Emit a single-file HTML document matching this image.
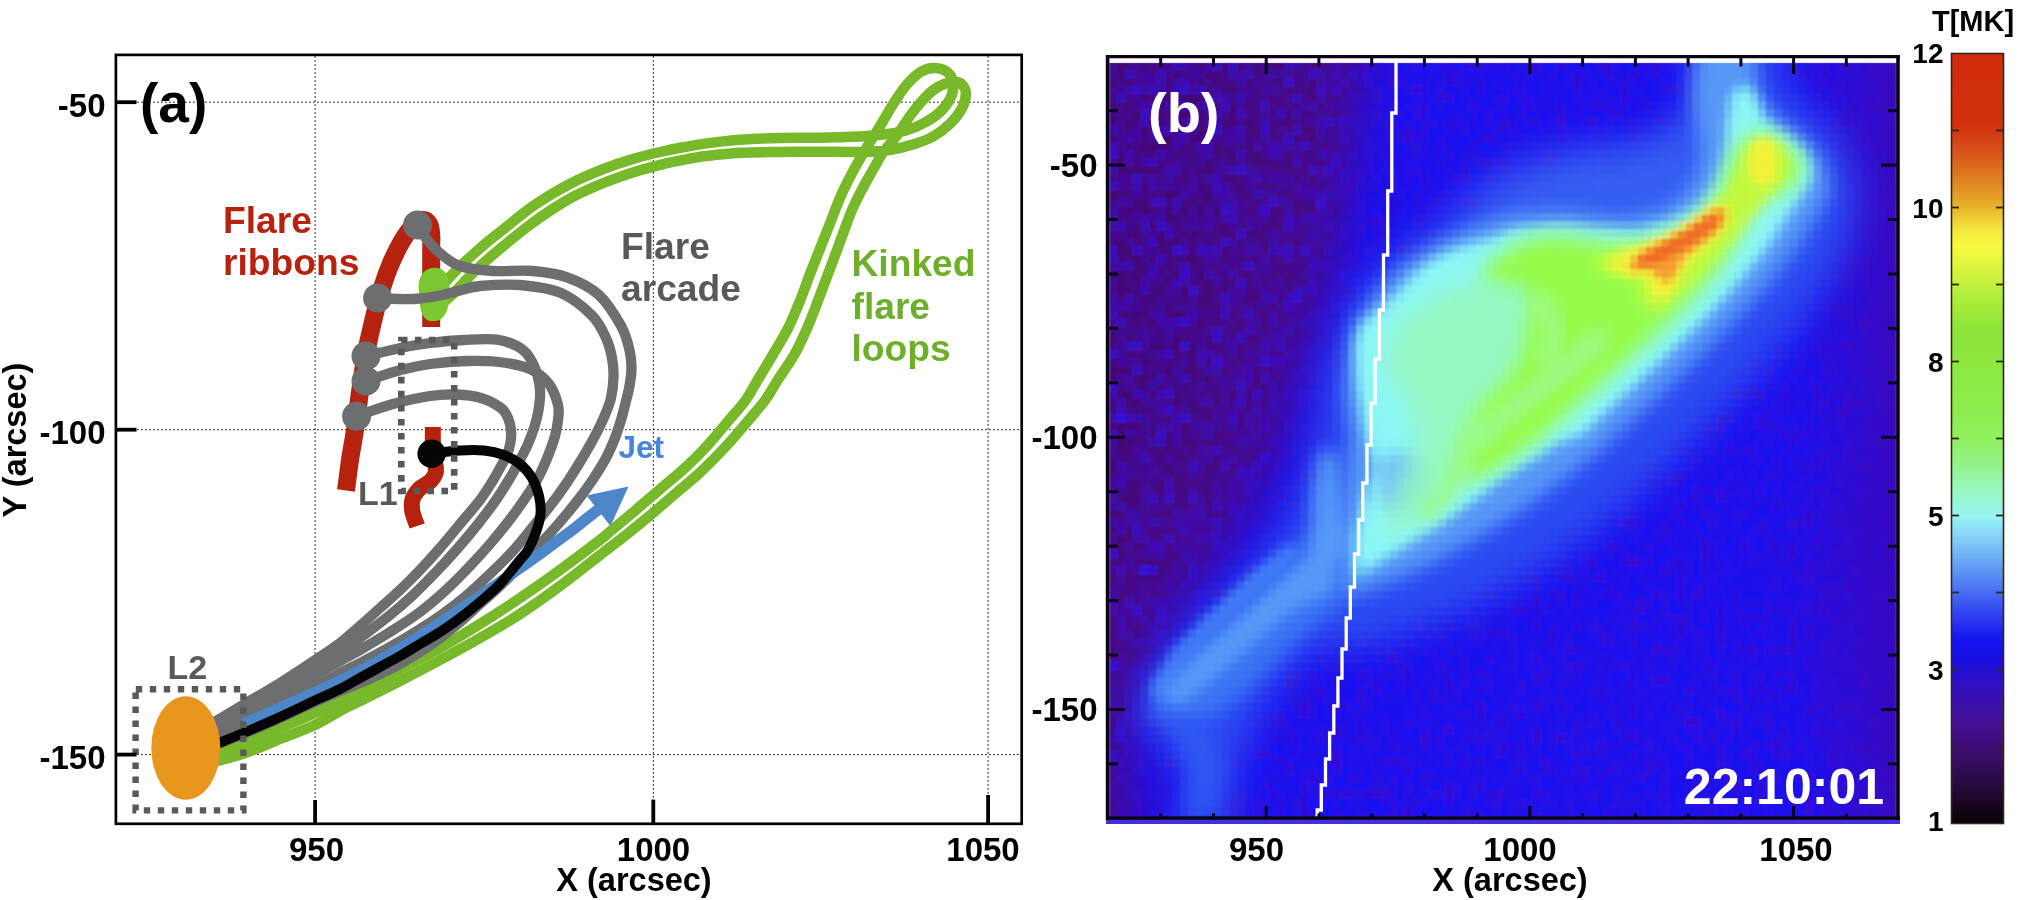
<!DOCTYPE html>
<html><head><meta charset="utf-8"><title>figure</title>
<style>
html,body{margin:0;padding:0;background:#fff;}
body{width:2025px;height:900px;overflow:hidden;}
svg{display:block;will-change:transform;}
text{font-family:"Liberation Sans",sans-serif;font-weight:bold;}
</style></head><body>
<svg width="2025" height="900" viewBox="0 0 2025 900">
<rect width="2025" height="900" fill="#ffffff"/>
<g stroke="#000" stroke-width="0.9" stroke-dasharray="1.8 2.2" fill="none">
<line x1="315.1" y1="56" x2="315.1" y2="823"/>
<line x1="653.3" y1="56" x2="653.3" y2="823"/>
<line x1="988.1" y1="56" x2="988.1" y2="823"/>
<line x1="117" y1="102.2" x2="1021" y2="102.2"/>
<line x1="117" y1="429.7" x2="1021" y2="429.7"/>
<line x1="117" y1="754.6" x2="1021" y2="754.6"/>
</g>
<g fill="none" stroke="#b5230f" stroke-linejoin="round">
<path d="M431.2,327.0 C431.2,320.8 431.2,302.8 431.2,290.0 C431.2,277.2 431.2,259.3 431.2,250.0 C431.2,240.7 431.6,238.3 431.2,234.0 C430.8,229.7 430.4,226.3 429.0,224.0 C427.6,221.7 425.5,219.8 423.0,220.0 C420.5,220.2 417.5,221.5 414.0,225.0 C410.5,228.5 406.2,233.8 402.0,241.0 C397.8,248.2 392.8,258.5 389.0,268.0 C385.2,277.5 382.0,287.7 379.0,298.0 C376.0,308.3 373.2,320.3 371.0,330.0 C368.8,339.7 367.3,345.7 365.5,356.0 C363.7,366.3 361.8,379.7 360.0,392.0 C358.2,404.3 356.7,418.7 355.0,430.0 C353.3,441.3 351.5,449.9 350.0,460.0 C348.5,470.1 346.7,485.4 346.0,490.5" stroke-width="18"/>
<path d="M432.9,427.0 C432.9,430.0 432.6,439.2 433.0,445.0 C433.4,450.8 434.5,457.4 435.0,462.0 C435.5,466.6 436.6,469.2 435.8,472.4 C435.0,475.6 432.9,478.6 430.2,481.3 C427.5,484.0 422.5,485.7 419.6,488.6 C416.7,491.6 413.8,495.2 412.6,499.0 C411.4,502.8 411.6,507.1 412.4,511.6 C413.2,516.1 416.4,523.6 417.2,526.0" stroke-width="16"/>
</g>
<g fill="none" stroke="#78b92b" stroke-width="10.5" stroke-linecap="round" stroke-linejoin="round">
<path d="M436.0,292.0 C438.0,289.8 443.6,283.6 448.0,279.0 C452.4,274.4 456.1,270.2 462.2,264.4 C468.3,258.6 477.0,250.7 484.4,244.4 C491.8,238.1 499.3,232.6 506.7,226.7 C514.1,220.8 521.5,214.3 528.9,208.9 C536.3,203.5 543.7,198.9 551.1,194.4 C558.5,189.9 565.9,185.9 573.3,182.2 C580.7,178.5 588.2,175.3 595.6,172.2 C603.0,169.1 610.4,166.3 617.8,163.8 C625.2,161.3 632.6,159.1 640.0,157.0 C647.4,154.9 654.8,153.2 662.2,151.5 C669.6,149.8 677.0,148.3 684.4,147.0 C691.8,145.7 697.4,144.6 706.7,143.4 C716.0,142.2 727.8,140.7 740.0,139.8 C752.2,138.9 766.7,138.3 780.0,138.0 C793.3,137.7 806.1,138.0 820.0,137.7 C833.9,137.4 851.8,137.0 863.3,136.3 C874.8,135.7 882.1,134.8 889.3,133.8 C896.5,132.8 900.9,132.0 906.7,130.2 C912.5,128.4 918.5,126.0 924.0,123.0 C929.5,120.0 935.6,116.1 939.9,112.1 C944.2,108.1 947.8,103.4 950.0,99.1 C952.2,94.8 953.3,90.3 953.2,86.1 C953.1,81.9 952.2,76.8 949.3,73.8 C946.4,70.8 940.3,68.4 935.6,68.1 C930.9,67.8 925.9,68.9 921.1,71.7 C916.3,74.5 911.5,79.1 906.7,84.7 C901.9,90.3 896.5,98.9 892.2,105.6 C887.9,112.3 884.9,118.2 880.7,125.1 C876.5,132.0 871.0,140.5 867.0,147.0 C863.0,153.5 860.1,158.5 857.0,164.0 C853.9,169.5 851.2,174.6 848.5,180.0 C845.8,185.4 843.6,189.5 840.5,196.7 C837.4,203.9 833.5,214.4 830.0,223.3 C826.5,232.2 823.0,241.1 819.5,250.0 C816.0,258.9 812.2,268.2 809.0,276.7 C805.8,285.1 803.4,292.3 800.0,300.7 C796.6,309.1 793.0,318.4 788.5,327.3 C784.0,336.2 778.5,345.1 773.3,354.0 C768.1,362.9 761.9,373.0 757.3,380.7 C752.7,388.4 750.7,393.2 745.8,400.0 C740.9,406.8 734.5,413.6 728.0,421.3 C721.5,429.0 713.8,438.5 706.7,446.2 C699.6,453.9 693.0,460.5 685.3,467.6 C677.6,474.7 668.7,481.8 660.4,488.9 C652.1,496.0 643.9,503.2 635.6,510.2 C627.3,517.2 616.6,526.0 610.7,531.0 C604.8,536.0 608.5,533.5 600.0,540.0 C591.5,546.5 573.3,560.3 560.0,570.0 C546.7,579.7 533.3,589.0 520.0,598.0 C506.7,607.0 493.3,615.7 480.0,624.0 C466.7,632.3 453.3,640.4 440.0,648.0 C426.7,655.6 413.3,662.5 400.0,669.5 C386.7,676.5 370.0,684.9 360.0,690.0 C350.0,695.1 347.3,696.2 340.0,700.0 C332.7,703.8 326.0,707.8 316.0,712.5 C306.0,717.2 291.3,723.1 280.0,728.0 C268.7,732.9 258.3,737.7 248.0,742.0 C237.7,746.3 226.0,751.0 218.0,754.0 C210.0,757.0 203.0,759.0 200.0,760.0"/>
<path d="M440.0,305.0 C442.2,303.2 448.3,298.5 453.0,294.0 C457.7,289.5 462.8,283.3 468.0,278.0 C473.2,272.7 477.9,268.0 484.4,262.2 C490.8,256.4 499.3,249.4 506.7,243.3 C514.1,237.2 521.5,231.2 528.9,225.6 C536.3,220.0 543.7,214.8 551.1,210.0 C558.5,205.2 565.9,200.7 573.3,196.7 C580.7,192.7 588.2,189.4 595.6,186.2 C603.0,183.0 610.4,180.2 617.8,177.6 C625.2,174.9 632.6,172.5 640.0,170.3 C647.4,168.1 654.8,166.1 662.2,164.3 C669.6,162.5 677.0,161.0 684.4,159.6 C691.8,158.2 697.4,157.1 706.7,156.0 C716.0,154.9 727.8,153.5 740.0,152.8 C752.2,152.1 766.7,152.2 780.0,152.0 C793.3,151.8 808.5,151.7 820.0,151.7 C831.5,151.7 840.5,152.0 848.9,152.0 C857.3,152.0 863.4,152.2 870.6,151.8 C877.8,151.4 885.2,150.9 892.2,149.7 C899.2,148.5 905.8,146.8 912.5,144.6 C919.2,142.4 926.5,140.2 932.7,136.7 C939.0,133.2 945.1,128.5 950.0,123.7 C954.9,118.9 959.6,112.9 962.3,107.8 C964.9,102.7 965.9,97.1 965.9,93.3 C965.9,89.5 964.0,86.6 962.3,84.7 C960.6,82.8 958.8,82.2 955.8,82.1 C952.8,82.0 948.1,82.6 944.2,84.0 C940.4,85.4 936.6,87.5 932.7,90.5 C928.9,93.5 925.0,97.7 921.1,102.0 C917.2,106.3 913.5,111.2 909.6,116.5 C905.8,121.8 902.4,127.8 898.0,133.8 C893.6,139.8 887.0,146.9 883.0,152.6 C879.0,158.3 876.8,163.1 874.0,168.0 C871.2,172.9 868.6,177.2 866.0,182.0 C863.4,186.8 860.6,192.0 858.3,196.7 C856.0,201.4 853.9,205.6 852.0,210.0 C850.1,214.4 849.3,216.6 846.8,223.3 C844.3,230.0 840.3,241.1 837.0,250.0 C833.7,258.9 830.2,268.2 827.0,276.7 C823.8,285.1 821.2,292.3 818.0,300.7 C814.8,309.1 811.4,318.4 807.5,327.3 C803.6,336.2 799.7,345.1 794.7,354.0 C789.7,362.9 782.2,373.0 777.3,380.7 C772.4,388.4 770.2,393.2 765.3,400.0 C760.3,406.8 754.4,413.3 747.6,421.3 C740.8,429.3 732.4,439.4 724.4,448.0 C716.4,456.6 707.9,465.2 699.6,472.9 C691.3,480.6 683.0,487.1 674.7,494.2 C666.4,501.3 658.1,508.7 649.8,515.6 C641.5,522.5 633.2,529.2 624.9,535.8 C616.6,542.4 610.8,546.6 600.0,555.0 C589.2,563.4 573.3,576.2 560.0,586.0 C546.7,595.8 533.3,605.3 520.0,614.0 C506.7,622.7 493.3,630.3 480.0,638.0 C466.7,645.7 453.3,652.8 440.0,660.0 C426.7,667.2 413.3,674.2 400.0,681.0 C386.7,687.8 370.0,696.0 360.0,701.0 C350.0,706.0 347.3,707.1 340.0,711.0 C332.7,714.9 326.0,719.8 316.0,724.5 C306.0,729.2 291.3,734.4 280.0,739.0 C268.7,743.6 258.3,748.3 248.0,752.0 C237.7,755.7 226.0,758.7 218.0,761.0 C210.0,763.3 203.0,765.2 200.0,766.0"/>
</g>
<path d="M433,268 C446,266 452,280 449,294 C450,310 444,322 433,321 C423,322 419,310 420,297 C416,282 421,269 433,268Z" fill="#7cc832"/>
<g fill="none" stroke="#6d6e70" stroke-width="10.3" stroke-linecap="round" stroke-linejoin="round">
<path d="M417.0,225.0 C418.7,227.4 423.0,234.7 427.0,239.5 C431.0,244.3 435.5,249.6 441.0,254.0 C446.5,258.4 451.3,263.2 460.0,266.0 C468.7,268.8 480.8,270.2 493.0,271.0 C505.2,271.8 520.5,269.9 533.0,271.0 C545.5,272.1 556.8,273.6 567.8,277.6 C578.8,281.6 589.9,286.8 598.8,294.8 C607.7,302.8 615.9,316.6 621.0,325.8 C626.1,335.0 627.8,343.0 629.5,350.0 C631.2,357.0 631.5,362.0 631.5,368.0 C631.5,374.0 630.5,380.2 629.5,386.0 C628.5,391.8 626.9,397.3 625.5,403.0 C624.1,408.7 622.8,414.2 621.0,420.0 C619.2,425.8 617.5,431.7 615.0,438.0 C612.5,444.3 609.8,451.0 606.0,458.0 C602.2,465.0 597.2,473.0 592.5,480.0 C587.8,487.0 583.4,493.0 578.0,500.0 C572.6,507.0 565.7,515.3 560.0,522.0 C554.3,528.7 550.0,533.3 544.0,540.0 C538.0,546.7 531.3,554.3 524.0,562.0 C516.7,569.7 507.3,579.0 500.0,586.0 C492.7,593.0 486.7,598.0 480.0,604.0 C473.3,610.0 466.7,616.3 460.0,622.0 C453.3,627.7 446.7,633.0 440.0,638.0 C433.3,643.0 426.7,647.7 420.0,652.0 C413.3,656.3 406.7,660.3 400.0,664.0 C393.3,667.7 386.7,670.8 380.0,674.0 C373.3,677.2 366.7,680.2 360.0,683.0 C353.3,685.8 347.3,687.9 340.0,691.0 C332.7,694.1 326.0,697.0 316.0,701.5 C306.0,706.0 291.3,712.9 280.0,718.0 C268.7,723.1 258.3,727.7 248.0,732.0 C237.7,736.3 226.0,740.8 218.0,744.0 C210.0,747.2 203.0,749.8 200.0,751.0"/>
<path d="M377.6,298.0 C381.3,298.2 392.9,298.9 400.0,299.0 C407.1,299.1 413.3,299.1 420.0,298.5 C426.7,297.9 433.3,296.8 440.0,295.5 C446.7,294.2 453.3,292.1 460.0,290.5 C466.7,288.9 470.0,286.9 480.0,286.0 C490.0,285.1 506.5,283.8 520.0,285.0 C533.5,286.2 549.0,287.9 561.0,293.0 C573.0,298.1 584.5,308.0 592.0,315.5 C599.5,323.0 602.7,330.9 606.0,338.0 C609.3,345.1 610.8,351.5 612.0,358.0 C613.2,364.5 613.7,370.3 613.5,377.0 C613.3,383.7 612.4,391.7 611.0,398.0 C609.6,404.3 607.2,409.7 605.0,415.0 C602.8,420.3 600.5,425.0 598.0,430.0 C595.5,435.0 593.0,439.7 590.0,445.0 C587.0,450.3 584.0,455.5 580.0,462.0 C576.0,468.5 571.0,476.7 566.0,484.0 C561.0,491.3 555.7,498.7 550.0,506.0 C544.3,513.3 538.3,520.3 532.0,528.0 C525.7,535.7 519.0,544.3 512.0,552.0 C505.0,559.7 497.7,566.7 490.0,574.0 C482.3,581.3 474.3,589.0 466.0,596.0 C457.7,603.0 447.7,610.5 440.0,616.0 C432.3,621.5 428.3,623.8 420.0,629.0 C411.7,634.2 400.0,641.3 390.0,647.0 C380.0,652.7 368.3,658.7 360.0,663.0 C351.7,667.3 347.3,669.2 340.0,673.0 C332.7,676.8 326.0,680.5 316.0,686.0 C306.0,691.5 291.3,700.0 280.0,706.0 C268.7,712.0 258.3,717.0 248.0,722.0 C237.7,727.0 226.0,732.3 218.0,736.0 C210.0,739.7 203.0,742.7 200.0,744.0"/>
<path d="M366.0,356.0 C371.8,354.7 389.9,350.2 400.6,348.0 C411.3,345.8 419.4,344.3 430.0,343.0 C440.6,341.7 452.5,340.5 464.0,340.0 C475.5,339.5 489.2,338.3 499.0,340.0 C508.8,341.7 517.0,345.3 523.0,350.0 C529.0,354.7 532.2,361.3 535.0,368.0 C537.8,374.7 539.4,383.0 540.0,390.0 C540.6,397.0 539.5,403.7 538.5,410.0 C537.5,416.3 535.8,422.3 534.0,428.0 C532.2,433.7 530.3,438.7 528.0,444.0 C525.7,449.3 523.0,454.3 520.0,460.0 C517.0,465.7 514.0,471.3 510.0,478.0 C506.0,484.7 501.3,492.3 496.0,500.0 C490.7,507.7 484.3,516.0 478.0,524.0 C471.7,532.0 465.0,540.0 458.0,548.0 C451.0,556.0 443.7,564.0 436.0,572.0 C428.3,580.0 419.7,588.8 412.0,596.0 C404.3,603.2 398.7,608.0 390.0,615.0 C381.3,622.0 368.3,631.8 360.0,638.0 C351.7,644.2 347.3,647.2 340.0,652.0 C332.7,656.8 326.0,660.8 316.0,667.0 C306.0,673.2 291.3,682.2 280.0,689.0 C268.7,695.8 258.3,702.0 248.0,708.0 C237.7,714.0 226.0,720.5 218.0,725.0 C210.0,729.5 203.0,733.3 200.0,735.0"/>
<path d="M366.0,381.0 C371.8,379.2 389.9,372.8 400.6,370.0 C411.3,367.2 419.0,365.5 430.0,364.0 C441.0,362.5 455.1,361.3 466.6,361.0 C478.1,360.7 488.4,360.7 499.0,362.0 C509.6,363.3 521.7,365.3 530.0,369.0 C538.3,372.7 544.3,378.0 549.0,384.0 C553.7,390.0 556.5,399.0 558.0,405.0 C559.5,411.0 558.5,414.8 558.0,420.0 C557.5,425.2 556.7,430.0 555.0,436.0 C553.3,442.0 550.8,449.0 548.0,456.0 C545.2,463.0 542.0,470.7 538.0,478.0 C534.0,485.3 529.0,492.7 524.0,500.0 C519.0,507.3 513.7,514.7 508.0,522.0 C502.3,529.3 496.3,536.7 490.0,544.0 C483.7,551.3 477.3,558.3 470.0,566.0 C462.7,573.7 454.3,582.3 446.0,590.0 C437.7,597.7 429.3,605.0 420.0,612.0 C410.7,619.0 400.0,625.7 390.0,632.0 C380.0,638.3 368.3,645.2 360.0,650.0 C351.7,654.8 347.3,656.8 340.0,661.0 C332.7,665.2 326.0,669.3 316.0,675.0 C306.0,680.7 291.3,688.8 280.0,695.0 C268.7,701.2 258.3,706.5 248.0,712.0 C237.7,717.5 226.0,723.8 218.0,728.0 C210.0,732.2 203.0,735.5 200.0,737.0"/>
<path d="M357.0,416.0 C363.0,414.0 380.8,407.3 393.0,404.0 C405.2,400.7 419.3,397.6 430.0,396.0 C440.7,394.4 448.5,394.2 457.0,394.5 C465.5,394.8 473.7,395.8 481.0,398.0 C488.3,400.2 496.5,404.7 501.0,408.0 C505.5,411.3 506.3,414.3 508.0,418.0 C509.7,421.7 510.6,426.0 511.0,430.0 C511.4,434.0 511.2,437.8 510.5,442.0 C509.8,446.2 508.8,450.7 507.0,455.0 C505.2,459.3 502.5,463.5 500.0,468.0 C497.5,472.5 495.3,476.7 492.0,482.0 C488.7,487.3 485.3,493.0 480.0,500.0 C474.7,507.0 466.7,516.0 460.0,524.0 C453.3,532.0 446.7,540.3 440.0,548.0 C433.3,555.7 426.7,563.0 420.0,570.0 C413.3,577.0 406.7,583.7 400.0,590.0 C393.3,596.3 386.7,602.0 380.0,608.0 C373.3,614.0 366.7,620.2 360.0,626.0 C353.3,631.8 347.3,637.4 340.0,643.0 C332.7,648.6 326.0,652.8 316.0,659.5 C306.0,666.2 291.3,675.9 280.0,683.0 C268.7,690.1 258.3,695.8 248.0,702.0 C237.7,708.2 226.0,715.3 218.0,720.0 C210.0,724.7 203.0,728.3 200.0,730.0"/>
</g>
<g fill="#6d6e70">
<circle cx="417.5" cy="225" r="14.5"/>
<circle cx="377.6" cy="298" r="14.5"/>
<circle cx="366" cy="356" r="14.5"/>
<circle cx="366" cy="381" r="14.5"/>
<circle cx="356.6" cy="416.2" r="14.5"/>
</g>
<path d="M244.0,724.0 C250.0,721.3 268.0,713.3 280.0,708.0 C292.0,702.7 306.0,696.5 316.0,692.0 C326.0,687.5 332.7,684.5 340.0,681.0 C347.3,677.5 353.3,674.5 360.0,671.0 C366.7,667.5 373.3,663.8 380.0,660.0 C386.7,656.2 393.3,652.5 400.0,648.5 C406.7,644.5 413.3,640.2 420.0,636.0 C426.7,631.8 433.3,627.4 440.0,623.0 C446.7,618.6 453.3,614.0 460.0,609.5 C466.7,605.0 473.3,600.6 480.0,596.0 C486.7,591.4 493.3,586.7 500.0,582.0 C506.7,577.3 513.3,572.7 520.0,568.0 C526.7,563.3 534.0,558.3 540.0,554.0 C546.0,549.7 550.2,546.3 556.0,542.0 C561.8,537.7 569.3,532.3 575.0,528.0 C580.7,523.7 585.3,519.7 590.0,516.0 C594.7,512.3 600.8,507.7 603.0,506.0" fill="none" stroke="#4d87c9" stroke-width="11.2"/>
<polygon points="628.5,486.5 586.5,495.5 610.5,526" fill="#4d87c9"/>
<path d="M431.0,453.5 C435.8,453.0 451.2,451.0 460.0,450.5 C468.8,450.0 476.7,449.8 484.0,450.5 C491.3,451.2 498.0,452.8 504.0,455.0 C510.0,457.2 515.3,460.2 520.0,464.0 C524.7,467.8 528.8,472.7 532.0,478.0 C535.2,483.3 537.6,490.0 539.0,496.0 C540.4,502.0 541.0,508.0 540.5,514.0 C540.0,520.0 538.1,526.0 536.0,532.0 C533.9,538.0 530.7,545.3 528.0,550.0 C525.3,554.7 524.7,554.3 520.0,560.0 C515.3,565.7 506.7,577.0 500.0,584.0 C493.3,591.0 486.7,596.3 480.0,602.0 C473.3,607.7 466.7,613.0 460.0,618.0 C453.3,623.0 446.7,627.7 440.0,632.0 C433.3,636.3 426.7,640.0 420.0,644.0 C413.3,648.0 406.7,652.2 400.0,656.0 C393.3,659.8 386.7,663.3 380.0,667.0 C373.3,670.7 366.7,674.3 360.0,678.0 C353.3,681.7 347.3,685.3 340.0,689.0 C332.7,692.7 326.0,695.3 316.0,700.0 C306.0,704.7 291.3,711.8 280.0,717.0 C268.7,722.2 258.3,726.6 248.0,731.0 C237.7,735.4 226.0,740.2 218.0,743.5 C210.0,746.8 203.0,749.8 200.0,751.0" fill="none" stroke="#050505" stroke-width="10" stroke-linecap="round"/>
<circle cx="431.6" cy="453.8" r="14.2" fill="#050505"/>
<ellipse cx="185.8" cy="748" rx="34.5" ry="51.7" fill="#e9961f"/>
<g fill="#58595b">
<rect x="401.3" y="340" width="52.9" height="151" fill="none" stroke="#58595b" stroke-width="6.6" stroke-dasharray="6.6 7.43" stroke-dashoffset="0.4"/>
<rect x="135.6" y="689.2" width="107.8" height="121.2" fill="none" stroke="#58595b" stroke-width="6.4" stroke-dasharray="6.4 7.6" stroke-dashoffset="-0.2"/>
</g>
<text x="223" y="232.5" font-size="37.2" fill="#b5230f" text-anchor="start" >Flare</text>
<text x="223" y="274.5" font-size="37.2" fill="#b5230f" text-anchor="start" >ribbons</text>
<text x="621" y="259" font-size="37.2" fill="#58595b" text-anchor="start" >Flare</text>
<text x="621" y="301" font-size="37.2" fill="#58595b" text-anchor="start" >arcade</text>
<text x="851.5" y="276" font-size="37.2" fill="#6fae2b" text-anchor="start" >Kinked</text>
<text x="851.5" y="319" font-size="37.2" fill="#6fae2b" text-anchor="start" >flare</text>
<text x="851.5" y="361.2" font-size="37.2" fill="#6fae2b" text-anchor="start" >loops</text>
<text x="618.5" y="457.7" font-size="31.5" fill="#4a84d6" text-anchor="start" >Jet</text>
<text x="358" y="504.5" font-size="34" fill="#58595b" text-anchor="start" >L1</text>
<text x="167.5" y="679" font-size="34" fill="#58595b" text-anchor="start" >L2</text>
<text x="140" y="122" font-size="55" fill="#000" text-anchor="start" >(a)</text>
<rect x="115.9" y="54.9" width="905.8" height="768.9" fill="none" stroke="#000" stroke-width="2.7"/>
<g stroke="#000" stroke-width="3.8">
<line x1="116" y1="102.2" x2="136.5" y2="102.2"/>
<line x1="116" y1="429.7" x2="136.5" y2="429.7"/>
<line x1="116" y1="754.6" x2="136.5" y2="754.6"/>
<line x1="315.1" y1="800" x2="315.1" y2="824"/>
<line x1="653.3" y1="799.6" x2="653.3" y2="824"/>
<line x1="988.1" y1="795" x2="988.1" y2="824"/>
</g>
<text x="105.5" y="116.8" font-size="33" fill="#000" text-anchor="end" >-50</text>
<text x="105.5" y="444.3" font-size="33" fill="#000" text-anchor="end" >-100</text>
<text x="105.5" y="769.2" font-size="33" fill="#000" text-anchor="end" >-150</text>
<text x="316.5" y="860.7" font-size="33" fill="#000" text-anchor="middle" >950</text>
<text x="653.5" y="860.7" font-size="33" fill="#000" text-anchor="middle" >1000</text>
<text x="983" y="860.7" font-size="33" fill="#000" text-anchor="middle" >1050</text>
<text x="634" y="891" font-size="32.5" fill="#000" text-anchor="middle" >X (arcsec)</text>
<text transform="translate(26.3,440) rotate(-90)" font-size="32.5" text-anchor="middle" fill="#000">Y (arcsec)</text><defs>
<clipPath id="hclip"><rect x="1109" y="62" width="788" height="756"/></clipPath>
<filter id="b3" x="-60%" y="-60%" width="220%" height="220%" color-interpolation-filters="sRGB"><feGaussianBlur stdDeviation="3"/></filter>
<filter id="b5" x="-60%" y="-60%" width="220%" height="220%" color-interpolation-filters="sRGB"><feGaussianBlur stdDeviation="5"/></filter>
<filter id="b6" x="-60%" y="-60%" width="220%" height="220%" color-interpolation-filters="sRGB"><feGaussianBlur stdDeviation="6"/></filter>
<filter id="b8" x="-60%" y="-60%" width="220%" height="220%" color-interpolation-filters="sRGB"><feGaussianBlur stdDeviation="8"/></filter>
<filter id="b9" x="-60%" y="-60%" width="220%" height="220%" color-interpolation-filters="sRGB"><feGaussianBlur stdDeviation="9"/></filter>
<filter id="b10" x="-60%" y="-60%" width="220%" height="220%" color-interpolation-filters="sRGB"><feGaussianBlur stdDeviation="10"/></filter>
<filter id="b12" x="-60%" y="-60%" width="220%" height="220%" color-interpolation-filters="sRGB"><feGaussianBlur stdDeviation="12"/></filter>
<filter id="b18" x="-60%" y="-60%" width="220%" height="220%" color-interpolation-filters="sRGB"><feGaussianBlur stdDeviation="18"/></filter>
<filter id="b20" x="-60%" y="-60%" width="220%" height="220%" color-interpolation-filters="sRGB"><feGaussianBlur stdDeviation="20"/></filter>
<filter id="b30" x="-60%" y="-60%" width="220%" height="220%" color-interpolation-filters="sRGB"><feGaussianBlur stdDeviation="30"/></filter>
<filter id="nz1" x="0" y="0" width="100%" height="100%" color-interpolation-filters="sRGB">
<feTurbulence type="fractalNoise" baseFrequency="0.085" numOctaves="2" seed="7" result="t"/>
<feColorMatrix in="t" type="matrix" values="0 0 0 0 0.17  0 0 0 0 0.07  0 0 0 0 0.84  2.8 0 0 0 -1.35"/>
</filter>
<filter id="nz2" x="0" y="0" width="100%" height="100%" color-interpolation-filters="sRGB">
<feTurbulence type="fractalNoise" baseFrequency="0.07" numOctaves="2" seed="21" result="t"/>
<feColorMatrix in="t" type="matrix" values="0 0 0 0 0.25  0 0 0 0 0.02  0 0 0 0 0.75  0 2.2 0 0 -1.1"/>
</filter>
<filter id="pix" x="1109" y="62" width="788" height="756" filterUnits="userSpaceOnUse" color-interpolation-filters="sRGB">
<feFlood x="1112" y="65" width="2" height="2"/>
<feComposite width="8.3" height="8.3"/>
<feTile result="a"/>
<feComposite in="SourceGraphic" in2="a" operator="in"/>
<feMorphology operator="dilate" radius="4.15"/>
<feGaussianBlur stdDeviation="0.8"/>
</filter>
<linearGradient id="cbar" x1="0" y1="0" x2="0" y2="1">
<stop offset="0.0000" stop-color="#d02c0c"/>
<stop offset="0.0934" stop-color="#d2300e"/>
<stop offset="0.1259" stop-color="#d8501a"/>
<stop offset="0.1713" stop-color="#e08a24"/>
<stop offset="0.2012" stop-color="#e8b62c"/>
<stop offset="0.2297" stop-color="#f4e83c"/>
<stop offset="0.2505" stop-color="#f8fa40"/>
<stop offset="0.2816" stop-color="#d6f43c"/>
<stop offset="0.3206" stop-color="#aaec3a"/>
<stop offset="0.3595" stop-color="#8ee43a"/>
<stop offset="0.4504" stop-color="#8cec48"/>
<stop offset="0.5023" stop-color="#90f060"/>
<stop offset="0.5412" stop-color="#94f494"/>
<stop offset="0.5737" stop-color="#98f8cc"/>
<stop offset="0.6009" stop-color="#98f4f4"/>
<stop offset="0.6321" stop-color="#80ccf6"/>
<stop offset="0.6645" stop-color="#64a0f4"/>
<stop offset="0.6970" stop-color="#4a70f2"/>
<stop offset="0.7294" stop-color="#3040f0"/>
<stop offset="0.7618" stop-color="#1414f0"/>
<stop offset="0.7878" stop-color="#1a0ee0"/>
<stop offset="0.8202" stop-color="#3010c0"/>
<stop offset="0.8657" stop-color="#44109a"/>
<stop offset="0.9046" stop-color="#3c0c70"/>
<stop offset="0.9435" stop-color="#2c0a48"/>
<stop offset="0.9760" stop-color="#18061c"/>
<stop offset="0.9994" stop-color="#060208"/>
</linearGradient>
<linearGradient id="rightp" x1="0" y1="0" x2="1" y2="0">
<stop offset="0" stop-color="#3c08b8" stop-opacity="0"/><stop offset="1" stop-color="#3c08b8" stop-opacity="0.85"/>
</linearGradient>
</defs>
<g filter="url(#pix)"><g clip-path="url(#hclip)">
<rect x="1109" y="62" width="788" height="756" fill="#1810ee"/>
<polygon points="1040.0,0.0 1376.0,0.0 1368.0,62.0 1358.0,150.0 1342.0,250.0 1320.0,330.0 1298.0,400.0 1288.0,440.0 1262.0,500.0 1243.0,535.0 1200.0,590.0 1165.0,640.0 1142.0,690.0 1134.0,743.0 1140.0,800.0 1148.0,880.0 1040.0,880.0" fill="#3c0aa4" filter="url(#b20)" opacity="1.0"/>
<polygon points="1040.0,0.0 1356.0,0.0 1348.0,62.0 1338.0,150.0 1322.0,250.0 1300.0,330.0 1278.0,400.0 1262.0,445.0 1235.0,500.0 1205.0,550.0 1172.0,598.0 1145.0,645.0 1122.0,700.0 1112.0,760.0 1110.0,880.0 1040.0,880.0" fill="#460a7c" filter="url(#b20)" opacity="0.92"/>
<polygon points="1040.0,0.0 1260.0,0.0 1245.0,150.0 1215.0,300.0 1180.0,420.0 1140.0,520.0 1040.0,580.0" fill="#42066c" filter="url(#b30)" opacity="0.6"/>
<rect x="1109" y="62" width="788" height="756" filter="url(#nz1)"/>
<rect x="1109" y="62" width="788" height="756" filter="url(#nz2)"/>
<rect x="1800" y="62" width="97" height="760" fill="url(#rightp)"/>
<ellipse cx="1860" cy="600" rx="70" ry="130" fill="#3408c8" opacity="0.35" filter="url(#b30)"/>
<polygon points="1330.0,360.0 1360.0,290.0 1420.0,235.0 1480.0,205.0 1530.0,175.0 1590.0,155.0 1650.0,145.0 1690.0,110.0 1695.0,30.0 1770.0,30.0 1790.0,100.0 1838.0,135.0 1858.0,195.0 1846.0,250.0 1812.0,305.0 1770.0,357.0 1722.0,410.0 1670.0,464.0 1610.0,518.0 1542.0,568.0 1472.0,608.0 1402.0,635.0 1350.0,650.0 1320.0,642.0 1290.0,670.0 1255.0,715.0 1235.0,770.0 1225.0,840.0 1180.0,840.0 1190.0,770.0 1150.0,735.0 1140.0,700.0 1165.0,660.0 1205.0,615.0 1250.0,570.0 1290.0,520.0 1312.0,460.0 1322.0,410.0" fill="#2c52f2" filter="url(#b18)" opacity="0.9"/>
<polygon points="1450.0,215.0 1500.0,170.0 1570.0,150.0 1640.0,150.0 1700.0,120.0 1705.0,200.0 1660.0,225.0 1580.0,225.0 1500.0,235.0" fill="#4070f4" filter="url(#b20)" opacity="0.55"/>
<polygon points="1150.0,714.0 1160.0,680.0 1195.0,645.0 1240.0,604.0 1278.0,568.0 1312.0,535.0 1340.0,522.0 1362.0,540.0 1358.0,590.0 1328.0,612.0 1298.0,638.0 1270.0,665.0 1242.0,694.0 1212.0,716.0 1180.0,722.0" fill="#3c76f4" filter="url(#b9)" opacity="0.95"/>
<polygon points="1160.0,694.0 1198.0,656.0 1245.0,616.0 1282.0,582.0 1318.0,552.0 1338.0,540.0 1330.0,590.0 1290.0,610.0 1255.0,640.0 1215.0,676.0 1180.0,704.0" fill="#5ca2f8" filter="url(#b6)" opacity="0.8"/>
<polygon points="1150.0,690.0 1175.0,650.0 1215.0,610.0 1255.0,572.0 1290.0,545.0 1300.0,552.0 1265.0,585.0 1225.0,622.0 1185.0,662.0 1160.0,700.0" fill="#4a8cf6" filter="url(#b5)" opacity="0.75"/>
<polygon points="1312.0,560.0 1313.0,500.0 1319.0,455.0 1336.0,450.0 1342.0,500.0 1348.0,552.0" fill="#58a0f8" filter="url(#b8)" opacity="0.9"/>
<polygon points="1168.0,715.0 1203.0,725.0 1222.0,765.0 1215.0,812.0 1185.0,817.0 1190.0,770.0" fill="#2e5af2" filter="url(#b8)" opacity="0.85"/>
<polygon points="1352.0,330.0 1375.0,296.0 1400.0,268.0 1435.0,245.0 1470.0,228.0 1510.0,215.0 1560.0,212.0 1620.0,218.0 1660.0,212.0 1685.0,195.0 1700.0,170.0 1700.0,140.0 1692.0,100.0 1700.0,30.0 1750.0,30.0 1758.0,95.0 1775.0,118.0 1800.0,135.0 1822.0,160.0 1830.0,190.0 1816.0,216.0 1794.0,249.0 1769.0,281.0 1739.0,314.0 1704.0,350.0 1669.0,384.0 1634.0,417.0 1599.0,449.0 1564.0,477.0 1524.0,506.0 1481.0,534.0 1437.0,559.0 1394.0,579.0 1364.0,590.0 1347.0,592.0 1342.0,560.0 1345.0,500.0 1352.0,440.0 1345.0,390.0" fill="#5a9cf6" filter="url(#b9)" opacity="0.95"/>
<polygon points="1362.0,325.0 1384.0,308.0 1400.0,292.0 1416.0,274.0 1435.0,260.0 1461.0,248.0 1493.0,239.0 1517.0,230.0 1560.0,226.0 1600.0,230.0 1640.0,232.0 1673.0,222.0 1700.0,208.0 1718.0,185.0 1727.0,155.0 1728.0,125.0 1733.0,95.0 1745.0,85.0 1756.0,100.0 1762.0,120.0 1785.0,138.0 1805.0,155.0 1812.0,175.0 1800.0,194.0 1784.0,219.0 1764.0,249.0 1739.0,279.0 1709.0,312.0 1674.0,346.0 1639.0,379.0 1604.0,411.0 1580.0,434.0 1557.0,441.0 1534.0,456.0 1499.0,477.0 1464.0,505.0 1429.0,528.0 1394.0,551.0 1369.0,567.0 1358.0,575.0 1356.0,540.0 1364.0,505.0 1376.0,470.0 1366.0,430.0 1358.0,380.0 1356.0,350.0" fill="#8cf6f6" filter="url(#b6)" opacity="1.0"/>
<polygon points="1378.0,455.0 1410.0,450.0 1432.0,470.0 1425.0,500.0 1400.0,515.0 1380.0,505.0" fill="#6cb4f8" filter="url(#b8)" opacity="0.85"/>
<polygon points="1392.0,330.0 1420.0,302.0 1460.0,284.0 1500.0,280.0 1530.0,300.0 1560.0,330.0 1600.0,340.0 1635.0,325.0 1615.0,365.0 1585.0,395.0 1555.0,420.0 1525.0,443.0 1490.0,470.0 1455.0,495.0 1420.0,520.0 1393.0,540.0 1385.0,520.0 1400.0,480.0 1420.0,440.0 1405.0,400.0 1385.0,370.0" fill="#98f8b8" filter="url(#b12)" opacity="0.85"/>
<polygon points="1482.0,265.0 1507.0,248.0 1528.0,237.0 1563.0,234.0 1610.0,241.0 1640.0,241.0 1673.0,231.0 1698.0,216.0 1715.0,196.0 1726.0,171.0 1735.0,146.0 1750.0,133.0 1767.0,131.0 1785.0,141.0 1803.0,160.0 1800.0,178.0 1790.0,191.0 1766.0,200.0 1752.0,218.0 1738.0,242.0 1724.0,265.0 1700.0,293.0 1673.0,321.0 1645.0,347.0 1615.0,373.0 1585.0,399.0 1558.0,423.0 1540.0,440.0 1515.0,457.0 1490.0,473.0 1470.0,481.0 1462.0,478.0 1464.0,455.0 1468.0,428.0 1482.0,402.0 1505.0,380.0 1520.0,359.0 1526.0,331.0 1529.0,305.0 1521.0,287.0 1486.0,284.0" fill="#96fc40" filter="url(#b10)" opacity="0.95"/>
<path d="M1470.0,430.0 C1468.7,435.0 1465.8,450.0 1462.0,460.0 C1458.2,470.0 1452.7,481.3 1447.0,490.0 C1441.3,498.7 1431.2,508.3 1428.0,512.0" fill="none" stroke="#98fa84" stroke-width="20" stroke-linecap="round" filter="url(#b8)" opacity="0.9"/>
<path d="M1600.0,338.0 C1593.3,343.7 1575.0,359.7 1560.0,372.0 C1545.0,384.3 1523.3,401.0 1510.0,412.0 C1496.7,423.0 1485.0,433.7 1480.0,438.0" fill="none" stroke="#a0f8d0" stroke-width="15" stroke-linecap="round" filter="url(#b8)" opacity="0.6"/>
<path d="M1540.0,300.0 C1542.5,305.0 1554.2,320.0 1555.0,330.0 C1555.8,340.0 1546.7,355.0 1545.0,360.0" fill="none" stroke="#a4f8c8" stroke-width="14" stroke-linecap="round" filter="url(#b8)" opacity="0.6"/>
<polygon points="1590.0,262.0 1620.0,250.0 1650.0,244.0 1680.0,232.0 1705.0,215.0 1725.0,195.0 1738.0,170.0 1745.0,148.0 1760.0,138.0 1778.0,142.0 1790.0,158.0 1786.0,178.0 1770.0,195.0 1752.0,215.0 1735.0,238.0 1712.0,262.0 1690.0,285.0 1668.0,305.0 1650.0,312.0 1640.0,295.0 1640.0,278.0 1615.0,276.0" fill="#c6f83c" filter="url(#b6)" opacity="0.9"/>
<polygon points="1605.0,263.0 1628.0,252.0 1652.0,246.0 1680.0,233.0 1706.0,214.0 1722.0,204.0 1729.0,212.0 1715.0,232.0 1698.0,250.0 1680.0,266.0 1672.0,288.0 1662.0,300.0 1652.0,292.0 1650.0,276.0 1628.0,274.0" fill="#f4f03a" filter="url(#b5)" opacity="1.0"/>
<ellipse cx="1763" cy="162" rx="13" ry="23" fill="#f4f03a" filter="url(#b5)"/>
<polygon points="1626.0,265.0 1643.0,248.0 1668.0,237.0 1692.0,223.0 1712.0,209.0 1726.0,206.0 1728.0,221.0 1712.0,239.0 1694.0,252.0 1683.0,262.0 1678.0,275.0 1668.0,286.0 1655.0,278.0 1648.0,270.0 1634.0,273.0" fill="#f4a030" filter="url(#b3)" opacity="1.0"/>
<polygon points="1634.0,260.0 1658.0,245.0 1684.0,231.0 1705.0,217.0 1720.0,212.0 1719.0,226.0 1699.0,242.0 1679.0,254.0 1659.0,264.0 1641.0,268.0" fill="#ee6a26" filter="url(#b3)" opacity="1.0"/>
</g></g>
<polyline points="1396.0,60.0 1396.0,113.0 1391.8,113.0 1391.8,191.0 1387.7,191.0 1387.7,255.0 1383.5,255.0 1383.5,310.0 1379.4,310.0 1379.4,359.0 1375.2,359.0 1375.2,403.0 1371.1,403.0 1371.1,445.0 1367.0,445.0 1367.0,483.0 1362.8,483.0 1362.8,520.0 1358.7,520.0 1358.7,554.0 1354.5,554.0 1354.5,587.0 1350.3,587.0 1350.3,618.0 1346.2,618.0 1346.2,649.0 1342.0,649.0 1342.0,678.0 1337.9,678.0 1337.9,706.0 1333.8,706.0 1333.8,733.0 1329.6,733.0 1329.6,759.0 1325.5,759.0 1325.5,785.0 1321.3,785.0 1321.3,810.0 1317.2,810.0 1317.2,826.0" fill="none" stroke="#fff" stroke-width="3.3" stroke-linejoin="miter"/>
<rect x="1106" y="818" width="794" height="6" fill="#4030e0"/>
<rect x="1108" y="58" width="790" height="4.8" fill="#fff"/>
<g stroke="#0a0418" fill="none">
<line x1="1106" y1="56.7" x2="1900" y2="56.7" stroke-width="3.2"/>
<line x1="1107.6" y1="55" x2="1107.6" y2="820" stroke-width="3.6"/>
<line x1="1898" y1="55" x2="1898" y2="820" stroke-width="3.6"/>
<line x1="1106" y1="818" x2="1900" y2="818" stroke-width="3.6"/>
</g>
<g stroke="#0a0418" stroke-width="3">
<line x1="1160.7" y1="58" x2="1160.7" y2="66.5"/>
<line x1="1160.7" y1="818" x2="1160.7" y2="813.5"/>
<line x1="1213.5" y1="58" x2="1213.5" y2="66.5"/>
<line x1="1213.5" y1="818" x2="1213.5" y2="813.5"/>
<line x1="1266.2" y1="58" x2="1266.2" y2="74.0"/>
<line x1="1266.2" y1="818" x2="1266.2" y2="806.0"/>
<line x1="1318.9" y1="58" x2="1318.9" y2="66.5"/>
<line x1="1318.9" y1="818" x2="1318.9" y2="813.5"/>
<line x1="1371.7" y1="58" x2="1371.7" y2="66.5"/>
<line x1="1371.7" y1="818" x2="1371.7" y2="813.5"/>
<line x1="1424.4" y1="58" x2="1424.4" y2="66.5"/>
<line x1="1424.4" y1="818" x2="1424.4" y2="813.5"/>
<line x1="1477.2" y1="58" x2="1477.2" y2="66.5"/>
<line x1="1477.2" y1="818" x2="1477.2" y2="813.5"/>
<line x1="1529.9" y1="58" x2="1529.9" y2="74.0"/>
<line x1="1529.9" y1="818" x2="1529.9" y2="806.0"/>
<line x1="1582.6" y1="58" x2="1582.6" y2="66.5"/>
<line x1="1582.6" y1="818" x2="1582.6" y2="813.5"/>
<line x1="1635.4" y1="58" x2="1635.4" y2="66.5"/>
<line x1="1635.4" y1="818" x2="1635.4" y2="813.5"/>
<line x1="1688.1" y1="58" x2="1688.1" y2="66.5"/>
<line x1="1688.1" y1="818" x2="1688.1" y2="813.5"/>
<line x1="1740.9" y1="58" x2="1740.9" y2="66.5"/>
<line x1="1740.9" y1="818" x2="1740.9" y2="813.5"/>
<line x1="1793.6" y1="58" x2="1793.6" y2="74.0"/>
<line x1="1793.6" y1="818" x2="1793.6" y2="806.0"/>
<line x1="1846.3" y1="58" x2="1846.3" y2="66.5"/>
<line x1="1846.3" y1="818" x2="1846.3" y2="813.5"/>
<line x1="1108" y1="110.7" x2="1118.0" y2="110.7"/>
<line x1="1897" y1="110.7" x2="1888.0" y2="110.7"/>
<line x1="1108" y1="165.1" x2="1125.0" y2="165.1"/>
<line x1="1897" y1="165.1" x2="1881.0" y2="165.1"/>
<line x1="1108" y1="219.5" x2="1118.0" y2="219.5"/>
<line x1="1897" y1="219.5" x2="1888.0" y2="219.5"/>
<line x1="1108" y1="274.0" x2="1118.0" y2="274.0"/>
<line x1="1897" y1="274.0" x2="1888.0" y2="274.0"/>
<line x1="1108" y1="328.4" x2="1118.0" y2="328.4"/>
<line x1="1897" y1="328.4" x2="1888.0" y2="328.4"/>
<line x1="1108" y1="382.9" x2="1118.0" y2="382.9"/>
<line x1="1897" y1="382.9" x2="1888.0" y2="382.9"/>
<line x1="1108" y1="437.3" x2="1125.0" y2="437.3"/>
<line x1="1897" y1="437.3" x2="1881.0" y2="437.3"/>
<line x1="1108" y1="491.7" x2="1118.0" y2="491.7"/>
<line x1="1897" y1="491.7" x2="1888.0" y2="491.7"/>
<line x1="1108" y1="546.2" x2="1118.0" y2="546.2"/>
<line x1="1897" y1="546.2" x2="1888.0" y2="546.2"/>
<line x1="1108" y1="600.6" x2="1118.0" y2="600.6"/>
<line x1="1897" y1="600.6" x2="1888.0" y2="600.6"/>
<line x1="1108" y1="655.1" x2="1118.0" y2="655.1"/>
<line x1="1897" y1="655.1" x2="1888.0" y2="655.1"/>
<line x1="1108" y1="709.5" x2="1125.0" y2="709.5"/>
<line x1="1897" y1="709.5" x2="1881.0" y2="709.5"/>
<line x1="1108" y1="763.9" x2="1118.0" y2="763.9"/>
<line x1="1897" y1="763.9" x2="1888.0" y2="763.9"/>
</g>
<text x="1148" y="132" font-size="56" fill="#fff" text-anchor="start" >(b)</text>
<text x="1884" y="803.5" font-size="50" fill="#fff" text-anchor="end" >22:10:01</text>
<text x="1097.5" y="176.8" font-size="33" fill="#000" text-anchor="end" >-50</text>
<text x="1097.5" y="449" font-size="33" fill="#000" text-anchor="end" >-100</text>
<text x="1097.5" y="721.2" font-size="33" fill="#000" text-anchor="end" >-150</text>
<text x="1256.5" y="861" font-size="33" fill="#000" text-anchor="middle" >950</text>
<text x="1520" y="861" font-size="33" fill="#000" text-anchor="middle" >1000</text>
<text x="1796" y="861" font-size="33" fill="#000" text-anchor="middle" >1050</text>
<text x="1510" y="890.5" font-size="32.5" fill="#000" text-anchor="middle" >X (arcsec)</text>
<rect x="1951.5" y="53.5" width="52" height="770" fill="url(#cbar)" stroke="#30281c" stroke-width="1.6"/>
<g stroke="#30281c" stroke-width="1.8">
<line x1="1952" y1="130.5" x2="1959" y2="130.5"/>
<line x1="1996" y1="130.5" x2="2003" y2="130.5"/>
<line x1="1952" y1="207.5" x2="1959" y2="207.5"/>
<line x1="1996" y1="207.5" x2="2003" y2="207.5"/>
<line x1="1952" y1="284.5" x2="1959" y2="284.5"/>
<line x1="1996" y1="284.5" x2="2003" y2="284.5"/>
<line x1="1952" y1="361.5" x2="1959" y2="361.5"/>
<line x1="1996" y1="361.5" x2="2003" y2="361.5"/>
<line x1="1952" y1="438.5" x2="1959" y2="438.5"/>
<line x1="1996" y1="438.5" x2="2003" y2="438.5"/>
<line x1="1952" y1="515.5" x2="1959" y2="515.5"/>
<line x1="1996" y1="515.5" x2="2003" y2="515.5"/>
<line x1="1952" y1="592.5" x2="1959" y2="592.5"/>
<line x1="1996" y1="592.5" x2="2003" y2="592.5"/>
<line x1="1952" y1="669.5" x2="1959" y2="669.5"/>
<line x1="1996" y1="669.5" x2="2003" y2="669.5"/>
<line x1="1952" y1="746.5" x2="1959" y2="746.5"/>
<line x1="1996" y1="746.5" x2="2003" y2="746.5"/>
</g>
<text x="1943.5" y="63" font-size="28" fill="#000" text-anchor="end" >12</text>
<text x="1943.5" y="218" font-size="28" fill="#000" text-anchor="end" >10</text>
<text x="1943.5" y="372" font-size="28" fill="#000" text-anchor="end" >8</text>
<text x="1943.5" y="526" font-size="28" fill="#000" text-anchor="end" >5</text>
<text x="1943.5" y="680" font-size="28" fill="#000" text-anchor="end" >3</text>
<text x="1943.5" y="831" font-size="28" fill="#000" text-anchor="end" >1</text>
<text x="1932" y="30.8" font-size="29" fill="#000" text-anchor="start" >T[MK]</text>
</svg>
</body></html>
